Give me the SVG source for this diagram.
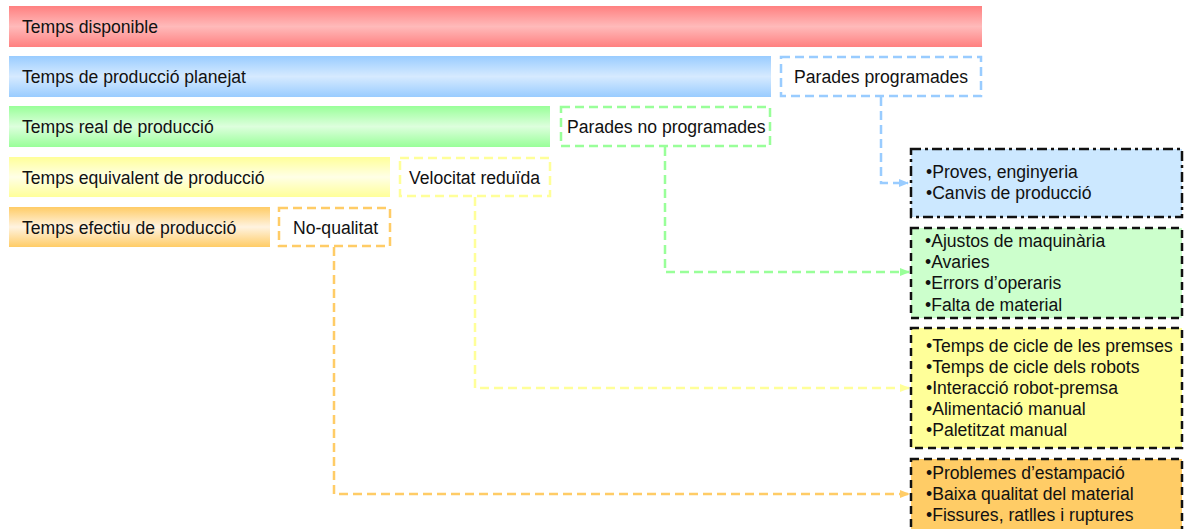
<svg xmlns="http://www.w3.org/2000/svg" width="1189" height="529" viewBox="0 0 1189 529">
<style>
text{font-family:"Liberation Sans",Arial,sans-serif;font-size:17.6px;fill:#111}
.lbl{fill:#fff;stroke-width:2.5;stroke-dasharray:9 5}
.conn{fill:none;stroke-width:2.5;stroke-dasharray:9 5}
.box{stroke:#111;stroke-width:2.5;stroke-dasharray:8 5}
</style>
<defs>
<linearGradient id="gr" x1="0" y1="0" x2="0" y2="1"><stop offset="0" stop-color="#FF8080"/><stop offset="0.5" stop-color="#FFBABA"/><stop offset="1" stop-color="#FF8080"/></linearGradient>
<linearGradient id="gb" x1="0" y1="0" x2="0" y2="1"><stop offset="0" stop-color="#99CCFF"/><stop offset="0.5" stop-color="#D6EAFF"/><stop offset="1" stop-color="#99CCFF"/></linearGradient>
<linearGradient id="gg" x1="0" y1="0" x2="0" y2="1"><stop offset="0" stop-color="#99FF99"/><stop offset="0.5" stop-color="#DDFFDD"/><stop offset="1" stop-color="#99FF99"/></linearGradient>
<linearGradient id="gy" x1="0" y1="0" x2="0" y2="1"><stop offset="0" stop-color="#FFFF99"/><stop offset="0.5" stop-color="#FFFFE6"/><stop offset="1" stop-color="#FFFF99"/></linearGradient>
<linearGradient id="go" x1="0" y1="0" x2="0" y2="1"><stop offset="0" stop-color="#FFCC66"/><stop offset="0.5" stop-color="#FFF3E0"/><stop offset="1" stop-color="#FFCC66"/></linearGradient>
<marker id="ab" markerWidth="10" markerHeight="8" refX="9" refY="4" orient="auto" markerUnits="userSpaceOnUse"><path d="M0,0 L10,4 L0,8 z" fill="#99CCFF"/></marker>
<marker id="ag" markerWidth="10" markerHeight="8" refX="9" refY="4" orient="auto" markerUnits="userSpaceOnUse"><path d="M0,0 L10,4 L0,8 z" fill="#99FF99"/></marker>
<marker id="ay" markerWidth="10" markerHeight="8" refX="9" refY="4" orient="auto" markerUnits="userSpaceOnUse"><path d="M0,0 L10,4 L0,8 z" fill="#FFFF99"/></marker>
<marker id="ao" markerWidth="10" markerHeight="8" refX="9" refY="4" orient="auto" markerUnits="userSpaceOnUse"><path d="M0,0 L10,4 L0,8 z" fill="#FFCC66"/></marker>
</defs>

<g id="bar-disponible"><rect x="9" y="6" width="973" height="41" fill="url(#gr)"/><text x="22" y="33">Temps disponible</text></g>
<g id="bar-planejat"><rect x="9" y="56" width="762" height="41" fill="url(#gb)"/><text x="22" y="83">Temps de producció planejat</text></g>
<g id="bar-real"><rect x="9" y="106" width="541" height="41" fill="url(#gg)"/><text x="22" y="133">Temps real de producció</text></g>
<g id="bar-equivalent"><rect x="9" y="157" width="381" height="40" fill="url(#gy)"/><text x="22" y="184">Temps equivalent de producció</text></g>
<g id="bar-efectiu"><rect x="9" y="207" width="261" height="40" fill="url(#go)"/><text x="22" y="234">Temps efectiu de producció</text></g>

<g id="lbl-parades-programades"><rect class="lbl" x="781" y="57" width="200" height="39" stroke="#99CCFF"/><text x="794" y="83">Parades programades</text></g>
<g id="lbl-parades-no-programades"><rect class="lbl" x="561" y="107" width="209" height="39" stroke="#99FF99"/><text x="567" y="133">Parades no programades</text></g>
<g id="lbl-velocitat"><rect class="lbl" x="400" y="158" width="150" height="38" stroke="#FFFF99"/><text x="409" y="184">Velocitat reduïda</text></g>
<g id="lbl-noqualitat"><rect class="lbl" x="279" y="208" width="111" height="38" stroke="#FFCC66"/><text x="293" y="234">No-qualitat</text></g>

<g id="connectors">
<path class="conn" d="M881,97 V183 H908" stroke="#99CCFF" marker-end="url(#ab)"/>
<path class="conn" d="M665,147 V272 H909" stroke="#99FF99" marker-end="url(#ag)"/>
<path class="conn" d="M475,197 V388 H909" stroke="#FFFF99" marker-end="url(#ay)"/>
<path class="conn" d="M334,247 V494 H909" stroke="#FFCC66" marker-end="url(#ao)"/>
</g>

<g id="box-programades"><rect class="box" x="911" y="149" width="271" height="68" fill="#CCE8FF" style="stroke-dasharray:10 4 3 4"/>
<text x="926" y="178">•Proves, enginyeria</text><text x="926" y="199">•Canvis de producció</text></g>
<g id="box-no-programades"><rect class="box" x="911" y="228" width="271" height="90" fill="#CCFFCC"/>
<text x="925" y="247">•Ajustos de maquinària</text><text x="925" y="268">•Avaries</text><text x="925" y="289">•Errors d’operaris</text><text x="925" y="311">•Falta de material</text></g>
<g id="box-velocitat"><rect class="box" x="911" y="328" width="271" height="120" fill="#FFFF99"/>
<text x="926" y="352">•Temps de cicle de les premses</text><text x="926" y="373">•Temps de cicle dels robots</text><text x="926" y="394">•Interacció robot-premsa</text><text x="926" y="415">•Alimentació manual</text><text x="926" y="436">•Paletitzat manual</text></g>
<g id="box-noqualitat"><rect class="box" x="911" y="459" width="271" height="75" fill="#FFCC66"/>
<text x="926" y="479">•Problemes d’estampació</text><text x="926" y="500">•Baixa qualitat del material</text><text x="926" y="521">•Fissures, ratlles i ruptures</text></g>
</svg>
